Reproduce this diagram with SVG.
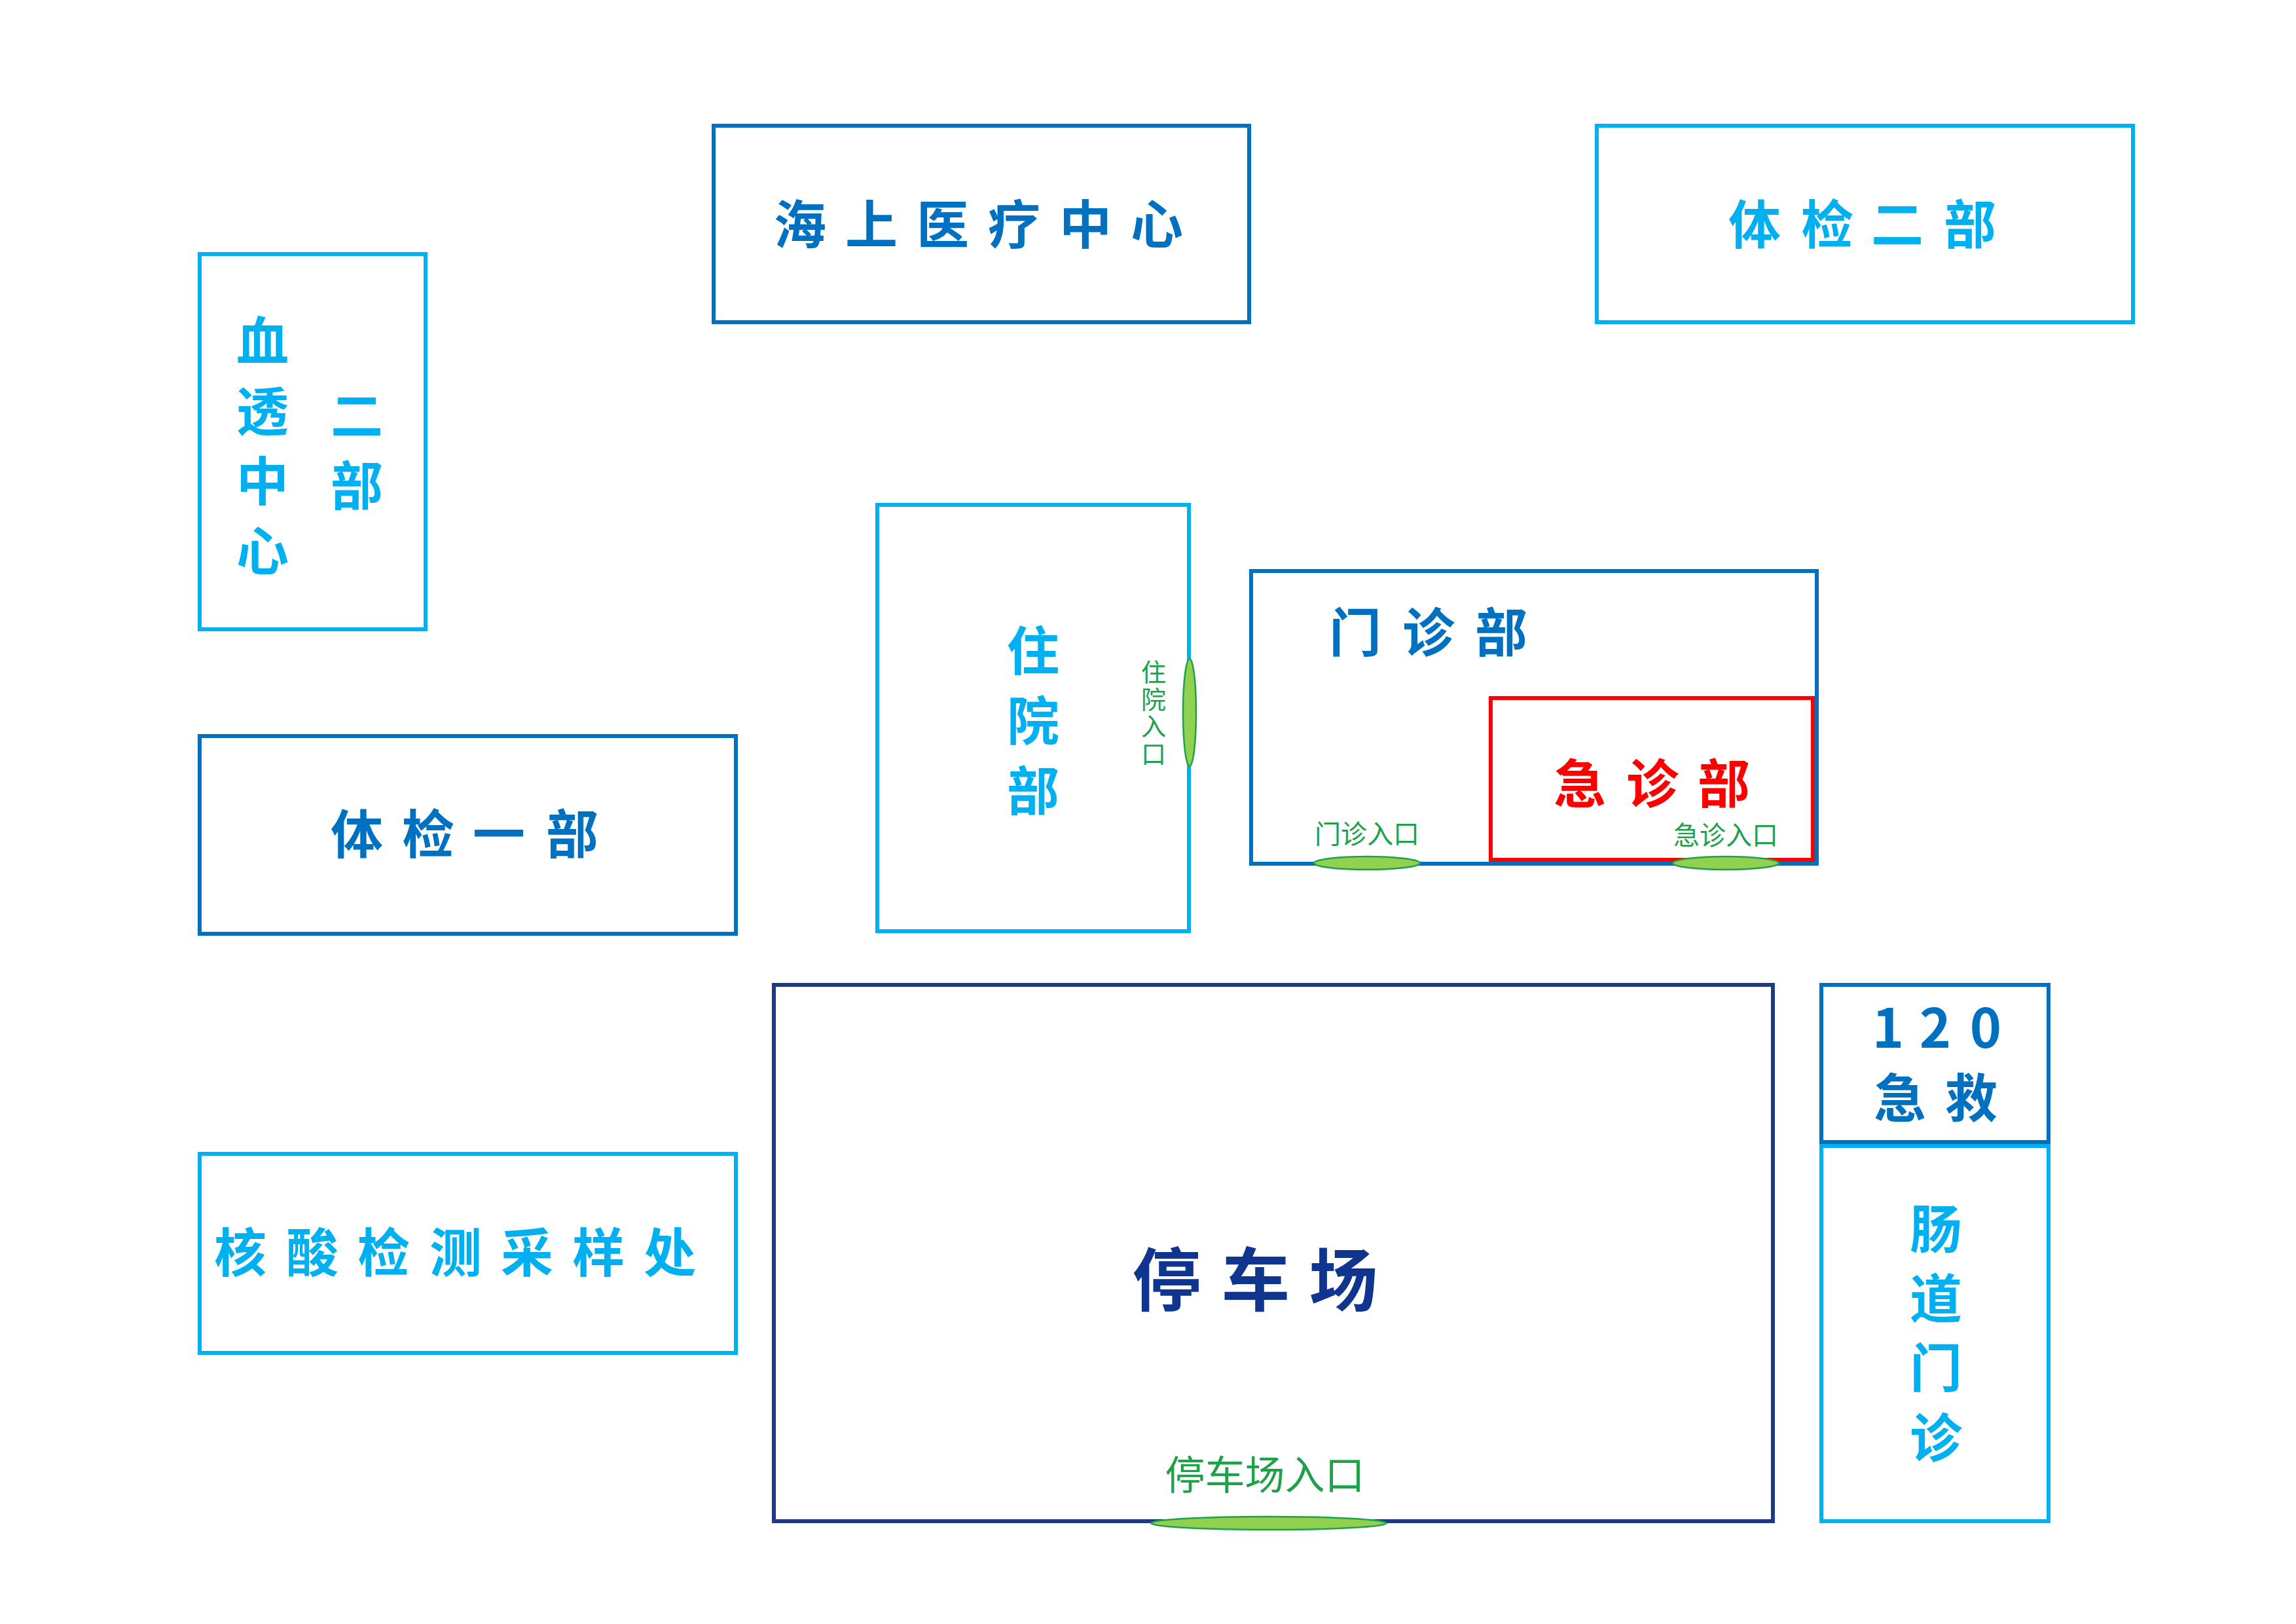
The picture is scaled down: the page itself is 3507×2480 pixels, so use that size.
<svg xmlns="http://www.w3.org/2000/svg" width="3507" height="2480" viewBox="0 0 3507 2480">
<style>
.box{fill:none;stroke-width:6}
.dk{stroke:#0070C0}
.cy{stroke:#00B0F0}
.nv{stroke:#1F3A84}
.rd{stroke:#FF0000}
.t{font-family:"Noto Sans CJK SC","Noto Sans CJK TC",sans-serif;font-weight:700;font-size:80px;text-anchor:middle}
.tdk{fill:#0070C0}
.tcy{fill:#00B0F0}
.trd{fill:#FF0000}
.tnv{fill:#10358F;font-size:105px}
.g{font-family:"Noto Sans CJK SC","Noto Sans CJK TC",sans-serif;font-weight:400;fill:#1FA14A;text-anchor:middle}
.ent{fill:#92D050;stroke:#1FA14A;stroke-width:2.5}
</style>
<rect width="3507" height="2480" fill="#FFFFFF"/>
<g id="haishang">
<rect class="box dk" x="1090" y="192" width="818" height="300"/>
<text class="t tdk" x="1222 1331 1440 1549 1658 1767" y="372">海上医疗中心</text>
</g>
<g id="tijian2">
<rect class="box cy" x="2439" y="192" width="819" height="300"/>
<text class="t tcy" x="2680 2791 2898 3009" y="372">体检二部</text>
</g>
<g id="xuetou">
<rect class="box cy" x="305" y="388" width="345" height="573"/>
<text class="t tcy" x="401" y="550">血</text>
<text class="t tcy" x="401" y="657">透</text>
<text class="t tcy" x="401" y="764">中</text>
<text class="t tcy" x="401" y="871">心</text>
<text class="t tcy" x="545" y="664">二</text>
<text class="t tcy" x="545" y="771">部</text>
</g>
<g id="zhuyuan">
<rect class="box cy" x="1340" y="771" width="476" height="651"/>
<text class="t tcy" x="1578" y="1023">住</text>
<text class="t tcy" x="1578" y="1130">院</text>
<text class="t tcy" x="1578" y="1237">部</text>
</g>
<g id="menzhen">
<rect class="box dk" x="1911" y="872" width="864" height="447"/>
<text class="t tdk" x="2070 2182 2293" y="995">门诊部</text>
</g>
<g id="jizhen">
<rect class="box rd" x="2277" y="1066" width="492" height="247"/>
<text class="t trd" x="2413 2524 2633" y="1226">急诊部</text>
</g>
<g id="tijian1">
<rect class="box dk" x="305" y="1124" width="819" height="302"/>
<text class="t tdk" x="545 654 762 874" y="1303">体检一部</text>
</g>
<g id="hesuan">
<rect class="box cy" x="305" y="1762" width="819" height="304"/>
<text class="t tcy" x="367 477 586 696 805 914 1023" y="1942">核酸检测采样处</text>
</g>
<g id="tingche">
<rect class="box nv" x="1182" y="1504" width="1526" height="819"/>
<text class="t tnv" x="1782 1918 2052" y="1993">停车场</text>
</g>
<g id="jijiu120">
<rect class="box dk" x="2782" y="1504" width="347" height="240"/>
<text class="t tdk" style="font-size:82px" x="2884 2956 3033" y="1600">120</text>
<text class="t tdk" x="2902 3011" y="1706">急救</text>
</g>
<g id="changdao">
<rect class="box cy" x="2782" y="1750" width="347" height="573"/>
<text class="t tcy" x="2957" y="1906">肠</text>
<text class="t tcy" x="2957" y="2012">道</text>
<text class="t tcy" x="2957" y="2118">门</text>
<text class="t tcy" x="2957" y="2225">诊</text>
</g>
<g id="entrance-zhuyuan">
<ellipse class="ent" cx="1817" cy="1088" rx="10" ry="82"/>
<text class="g" style="font-size:38px;writing-mode:vertical-rl;text-anchor:start;letter-spacing:3.5px" x="1762" y="1007">住院入口</text>
</g>
<g id="entrance-menzhen">
<ellipse class="ent" cx="2088" cy="1318" rx="81" ry="10"/>
<text class="g" style="font-size:40px" x="2088" y="1288">门诊入口</text>
</g>
<g id="entrance-jizhen">
<ellipse class="ent" cx="2636" cy="1318" rx="81" ry="10"/>
<text class="g" style="font-size:40px" x="2636" y="1290">急诊入口</text>
</g>
<g id="entrance-tingche">
<ellipse class="ent" cx="1938" cy="2326" rx="180" ry="10"/>
<text class="g" style="font-size:61px" x="1932" y="2275">停车场入口</text>
</g>
<g id="connectors"/>
</svg>
